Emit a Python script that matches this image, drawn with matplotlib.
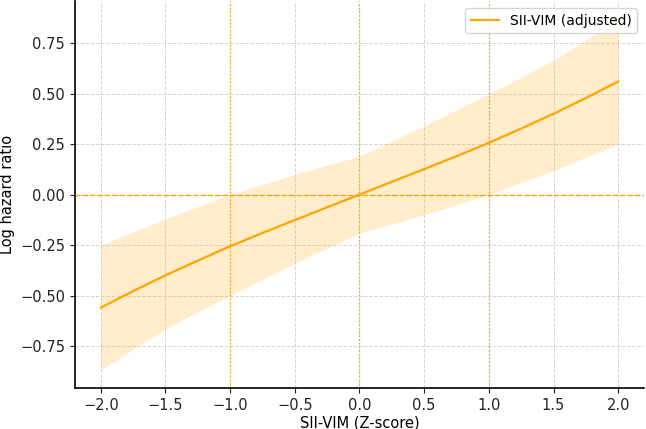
import matplotlib
matplotlib.use('Agg')
import matplotlib.pyplot as plt

# SII-VIM z-score grid and estimated log hazard ratio with CI
z_score = [-2.0, -1.75, -1.5, -1.25, -1.0, -0.75, -0.5, -0.25, 0.0,
           0.25, 0.5, 0.75, 1.0, 1.25, 1.5, 1.75, 2.0]
log_hr = [-0.56, -0.478, -0.40, -0.327, -0.256, -0.19, -0.126, -0.063, 0.0,
          0.063, 0.126, 0.19, 0.256, 0.327, 0.40, 0.478, 0.56]
ci_lower = [-0.87, -0.765, -0.665, -0.58, -0.50, -0.42, -0.34, -0.265, -0.19,
            -0.145, -0.10, -0.05, 0.0, 0.06, 0.12, 0.185, 0.25]
ci_upper = [-0.25, -0.185, -0.12, -0.06, 0.0, 0.05, 0.10, 0.145, 0.19,
            0.265, 0.34, 0.42, 0.50, 0.58, 0.665, 0.765, 0.87]

ref_x = [-1.0, 0.0, 1.0]

fig, ax = plt.subplots(figsize=(6.46, 4.29), dpi=100)
fig.subplots_adjust(left=0.116, right=0.997, bottom=0.096, top=0.997)

ax.fill_between(z_score, ci_lower, ci_upper, color='orange', alpha=0.2, linewidth=0)
ax.plot(z_score, log_hr, color='orange', linewidth=1.6, label='SII-VIM (adjusted)')

# reference lines
ax.axhline(0, color='orange', linestyle='--', linewidth=1)
for xv in ref_x:
    ax.axvline(xv, color='orange', linestyle=':', linewidth=1)

ax.grid(True, linestyle='--', color='#d5d5d5', linewidth=0.7)
ax.set_axisbelow(True)
for s in ['top', 'right']:
    ax.spines[s].set_visible(False)
ax.spines['left'].set_linewidth(1.2)
ax.spines['bottom'].set_linewidth(1.2)

ax.set_xlabel('SII-VIM (Z-score)', fontsize=10.5, labelpad=2)
ax.set_ylabel('Log hazard ratio', fontsize=10.5)
ax.tick_params(labelsize=10.5, colors='#222222')
ax.legend(loc='upper right', fontsize=10, handlelength=2)

plt.savefig('out.png', dpi=100)
